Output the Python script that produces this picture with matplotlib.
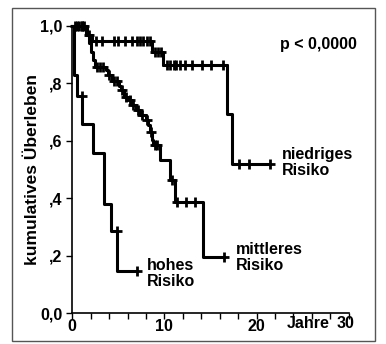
import numpy as np
import matplotlib.pyplot as plt
from matplotlib.patches import Rectangle

plt.rcParams['font.family'] = ['Liberation Sans', 'DejaVu Sans']
plt.rcParams['font.weight'] = 'bold'

# Kaplan-Meier Stufen (Zeit in Jahren, kumulatives Ueberleben danach)
low_t = [0, 1.5, 2.1, 8.6, 9.8, 16.8, 17.3]
low_s = [1.0, 0.969, 0.946, 0.91, 0.864, 0.693, 0.519]
low_end = 21.5
low_cens = [0.5, 1.0, 1.8, 2.6, 3.2, 4.5, 5.0, 5.7, 6.5, 7.0, 7.4, 7.7, 8.1,
            8.4, 9.0, 9.3, 9.6, 10.3, 10.6, 11.0, 11.3, 11.7, 12.2, 13.0,
            14.1, 15.0, 16.4, 18.1, 19.2, 21.5]

mid_t = [0, 1.6, 1.8, 2.0, 2.3, 2.5, 3.7, 3.9, 4.3, 5.1, 5.3, 5.6, 6.1, 6.5,
         6.9, 7.4, 8.0, 8.2, 8.4, 8.6, 8.8, 9.5, 10.6, 11.2, 14.2]
mid_s = [1.0, 0.969, 0.94, 0.91, 0.88, 0.858, 0.847, 0.83, 0.81, 0.79, 0.777,
         0.754, 0.742, 0.725, 0.707, 0.69, 0.672, 0.655, 0.632, 0.603, 0.585,
         0.533, 0.463, 0.388, 0.194]
mid_end = 16.5
mid_cens = [0.3, 0.7, 1.1, 1.3, 2.7, 3.0, 3.3, 4.0, 4.5, 4.8, 5.4, 5.8, 6.3,
            6.6, 7.1, 7.6, 8.1, 8.5, 9.0, 9.2, 10.8, 11.4, 12.3, 13.3, 16.5]

high_t = [0, 0.2, 0.5, 1.1, 2.2, 3.4, 4.2, 4.9]
high_s = [1.0, 0.829, 0.757, 0.657, 0.559, 0.38, 0.286, 0.145]
high_end = 7.0
high_cens = [1.05, 4.8, 7.0]

x_ticks = [0, 10, 20, 30]
y_ticks = [0.0, 0.2, 0.4, 0.6, 0.8, 1.0]
y_labels = ['0,0', ',2', ',4', ',6', ',8', '1,0']

W, H = 386, 344
fs = 11.5
fig = plt.figure(figsize=(W / 100, H / 100), dpi=100)
fig.patches.append(Rectangle((12 / W, 3 / H), 363 / W, 333 / H,
                             transform=fig.transFigure, fill=False,
                             edgecolor='#555555', lw=1.0))
ax = fig.add_axes([72.3 / W, 31 / H, 276.4 / W, 287 / H])

for t, s, end, cens in [(low_t, low_s, low_end, low_cens),
                        (mid_t, mid_s, mid_end, mid_cens),
                        (high_t, high_s, high_end, high_cens)]:
    tt = np.array(t + [end])
    ss = np.array(s + [s[-1]])
    ax.step(tt, ss, where='post', color='black', lw=2.2, clip_on=False,
            zorder=3)
    idx = np.searchsorted(np.array(t), np.array(cens), side='right') - 1
    ax.plot(cens, np.array(s)[idx], ls='none', marker='+', ms=7, mew=2.0,
            color='black', clip_on=False, zorder=4)

ax.set_xlim(0, 30)
ax.set_ylim(0, 1)
ax.spines['top'].set_visible(False)
ax.spines['right'].set_visible(False)
for sp in ['left', 'bottom']:
    ax.spines[sp].set_linewidth(1.2)

ax.set_xticks(np.arange(0, 31, 2))
ax.set_xticklabels([str(v) if v in x_ticks and v != 30 else '' for v in range(0, 31, 2)])
ax.set_yticks(y_ticks)
ax.set_yticklabels(y_labels)
ax.tick_params(direction='out', length=4, width=1.0, labelsize=fs, pad=3)
ax.tick_params(axis='x', pad=0.5)

ax.set_ylabel('kumulatives Überleben', fontsize=12.5, fontweight='bold',
              labelpad=0)

fig.text(337 / W, 20 / H, '30', ha='left', va='center', fontsize=fs,
         fontweight='bold')
fig.text(330 / W, 20 / H, 'Jahre', ha='right', va='center', fontsize=fs,
         fontweight='bold')

ax.text(22.5, 0.934, 'p < 0,0000', fontsize=fs, fontweight='bold',
        va='center', ha='left')
ax.text(22.8, 0.525, 'niedriges\nRisiko', fontsize=fs, fontweight='bold',
        va='center', ha='left', linespacing=1.1)
ax.text(17.8, 0.192, 'mittleres\nRisiko', fontsize=fs, fontweight='bold',
        va='center', ha='left', linespacing=1.1)
ax.text(8.1, 0.138, 'hohes\nRisiko', fontsize=fs, fontweight='bold',
        va='center', ha='left', linespacing=1.1)

fig.savefig('out.png', dpi=100)
